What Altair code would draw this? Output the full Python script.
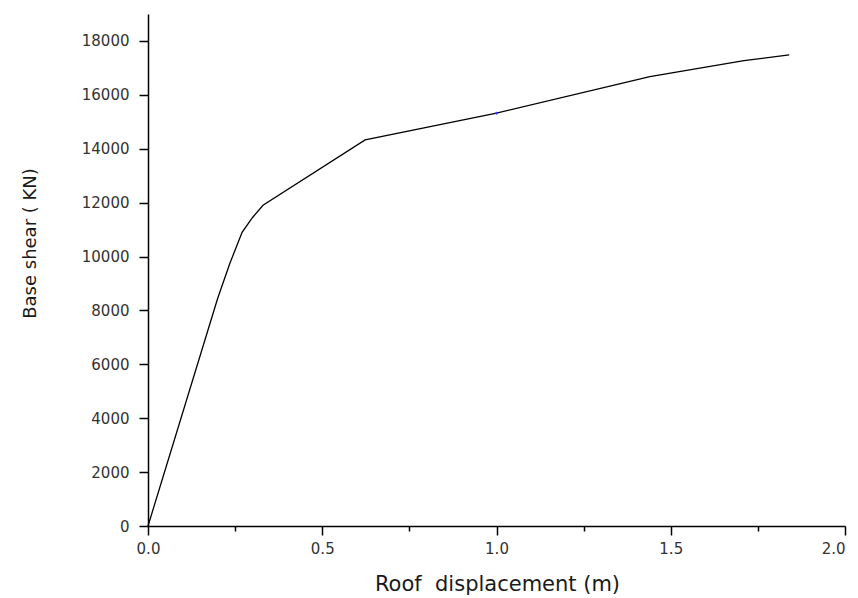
import altair as alt
import pandas as pd

# Pushover curve values
disp = [0.0, 0.20, 0.235, 0.27, 0.30, 0.33, 0.623, 1.0, 1.44, 1.71, 1.84]
shear = [0, 8450, 9750, 10900, 11450, 11900, 14330, 15320, 16680, 17270, 17480]

# small blue marker visible on the curve
mark_x = [1.0]
mark_y = [15316]

x_ticks = [0.0, 0.25, 0.5, 0.75, 1.0, 1.25, 1.5, 1.75, 2.0]
y_ticks = list(range(0, 19001, 1000))

df = pd.DataFrame({"disp": disp, "shear": shear})
dm = pd.DataFrame({"disp": mark_x, "shear": mark_y})

FONT = "DejaVu Sans"

common = dict(
    grid=False,
    domainColor="black",
    domainWidth=1.5,
    tickColor="black",
    tickWidth=1.5,
    labelFont=FONT,
    labelFontSize=15,
    labelColor="#333333",
    labelFlush=False,
    titleFont=FONT,
    titleColor="#1a1a1a",
    titleFontWeight="normal",
)

x_enc = alt.X(
    "disp:Q",
    scale=alt.Scale(domain=[0, 2.0], nice=False, zero=False),
    axis=alt.Axis(
        title="Roof\u00a0\u00a0displacement (m)",
        values=x_ticks,
        labelExpr="(round(datum.value*100) % 50 === 0) ? format(datum.value, '.1f') : ''",
        tickSize={"condition": {"test": "round(datum.value*100) % 50 === 0", "value": 9}, "value": 5},
        labelAlign={"condition": {"test": "datum.value >= 1.99", "value": "right"}, "value": "center"},
        labelPadding=6,
        titleFontSize=21,
        titleX=349,
        titleY=64,
        titleBaseline="alphabetic",
        titleAnchor="middle",
        **common,
    ),
)
y_enc = alt.Y(
    "shear:Q",
    scale=alt.Scale(domain=[0, 19000], nice=False),
    axis=alt.Axis(
        title="Base shear ( KN)",
        values=y_ticks,
        format="d",
        labelExpr="(datum.value % 2000 === 0) ? datum.label : ''",
        tickSize={"condition": {"test": "datum.value % 2000 === 0", "value": 9}, "value": 5},
        labelPadding=10,
        titleFontSize=18,
        titleX=-118,
        titleY=229,
        titleAngle=-90,
        titleBaseline="middle",
        titleAnchor="middle",
        **common,
    ),
)

line = alt.Chart(df).mark_line(color="black", strokeWidth=1.3).encode(x=x_enc, y=y_enc)
dot = alt.Chart(dm).mark_point(color="#3a3aff", filled=True, size=8, opacity=1).encode(
    x="disp:Q", y="shear:Q"
)

chart = (
    alt.layer(line, dot)
    .properties(
        width=697,
        height=512,
        background="white",
        autosize=alt.AutoSizeParams(type="none"),
        padding={"left": 140, "top": 6, "right": 5, "bottom": 70},
    )
    .configure_view(stroke=None)
)

chart.save("out.html", embed_options={"renderer": "svg", "actions": False})
